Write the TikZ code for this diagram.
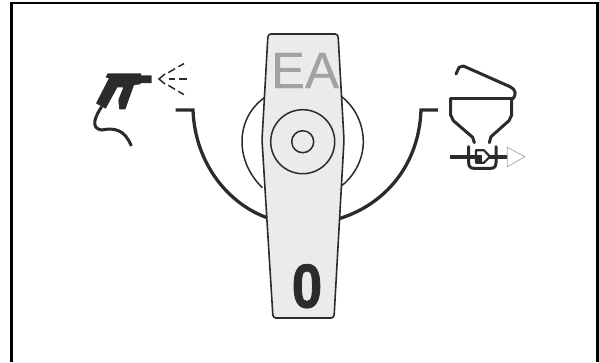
\documentclass[tikz,border=0pt]{standalone}
\usepackage{fontspec}
\setmainfont{Liberation Sans}
\definecolor{ink}{HTML}{2B2B2B}
\definecolor{leverfill}{HTML}{EBEBEB}
\definecolor{eagray}{HTML}{A2A2A2}
\tikzset{
  thin ring/.style={draw=ink,line width=1.5pt},
  thick arc/.style={draw=ink,line width=3.3pt,line join=miter},
  hopper line/.style={draw=ink,line width=3pt,line join=round,line cap=round},
  spray/.style={draw=ink,line width=1.5pt}
}
\begin{document}
\begin{tikzpicture}[x=1pt,y=-1pt]
\useasboundingbox (0,0) rectangle (599,362);
% frame
\fill[black] (10,2) rectangle (599,4.2);
\fill[black] (10,2) rectangle (12.8,362);
\fill[black] (596.2,2) rectangle (599,362);
% ring behind the lever
\draw[thin ring] (264.3,97.7) .. controls (250,108) and (242,124) .. (242,141.7) .. controls (242,159) and (250,176) .. (262.5,187.7);
\draw[thin ring] (341.7,96.7) .. controls (355,107) and (363.3,124) .. (363.3,141.7) .. controls (363.3,159) and (355,175) .. (341.7,185.7);
% thick arcs
\draw[thick arc] (175.5,110) -- (193,110) .. controls (195,165) and (230,205) .. (268,218);
\draw[thick arc] (438,110) -- (421,110) .. controls (419,165) and (385,205) .. (338,219);
% lever
\draw[fill=leverfill,draw=ink,line width=1.6pt,rounded corners=3pt]
  (268,34) -- (338,34) -- (344,140) -- (334,318) -- (273,318) -- (262,140) -- cycle;
\node[anchor=base,text=eagray,font=\fontsize{51}{51}\selectfont\addfontfeature{FakeBold=0.4},inner sep=0pt] (ea) at (305,88) {EA};
\draw[thin ring] (302.7,141.7) circle (32);
\draw[thin ring] (302.7,141.7) circle (11);
\node[anchor=base,text=ink,font=\fontsize{62}{62}\selectfont\bfseries\addfontfeature{FakeBold=1.5},inner sep=0pt,xscale=.88] (zero) at (307,307.5) {0};
% spray gun
\begin{scope}[shift={(60,50)},scale=1/3]
\fill[ink,line join=round] (143,70) -- (243,70) -- (243,76) -- (275,76) -- (275,99) -- (243,99) -- (240,103) -- (222,105) -- (196,178) -- (178,178) -- (175,150) -- (190,112) -- (172,112) -- (137,176) -- (108,160) -- (143,92) -- (147,85) -- (137,82) -- cycle;
\draw[ink,line width=3pt] (125,170) .. controls (105,200) and (90,235) .. (125,240) .. controls (165,232) and (195,240) .. (214,288);
\draw[spray] (315,72) -- (297,87) -- (315,102);
\draw[spray] (325,68) -- (345,56) (355,50) -- (372,41);
\draw[spray] (328,87) -- (345,87) (358,87) -- (382,87);
\draw[spray] (325,106) -- (345,118) (355,124) -- (372,134);
\end{scope}
% hopper
\begin{scope}[shift={(410,50)},scale=1/3]
\draw[hopper line] (138,72) -- (147,52) -- (160,48) -- (300,110) .. controls (318,118) and (320,135) .. (308,147);
\draw[hopper line] (122,145) -- (308,145);
\draw[hopper line] (122,145) -- (122,195) -- (130,212) -- (188,262) -- (193,278);
\draw[hopper line] (305,145) -- (305,195) -- (297,212) -- (243,260) -- (238,278);
\draw[hopper line] (176,290) -- (176,338) .. controls (176,350) and (182,355) .. (192,355) -- (242,355) .. controls (252,355) and (258,350) .. (258,338) -- (258,290);
\draw[ink,line width=4.2pt] (120,320) -- (295,320);
\draw[draw=ink,fill=white,line width=2.2pt,line join=round] (198,301) -- (222,301) -- (240,320) -- (222,338) -- (198,338) -- cycle;
\fill[ink] (198,314) -- (216,314) -- (216,338) -- (198,338) -- cycle;
\draw[draw=gray!70,fill=white,line width=.7pt] (292,292) -- (345,320) -- (292,350) -- cycle;
\end{scope}
\end{tikzpicture}
\end{document}
